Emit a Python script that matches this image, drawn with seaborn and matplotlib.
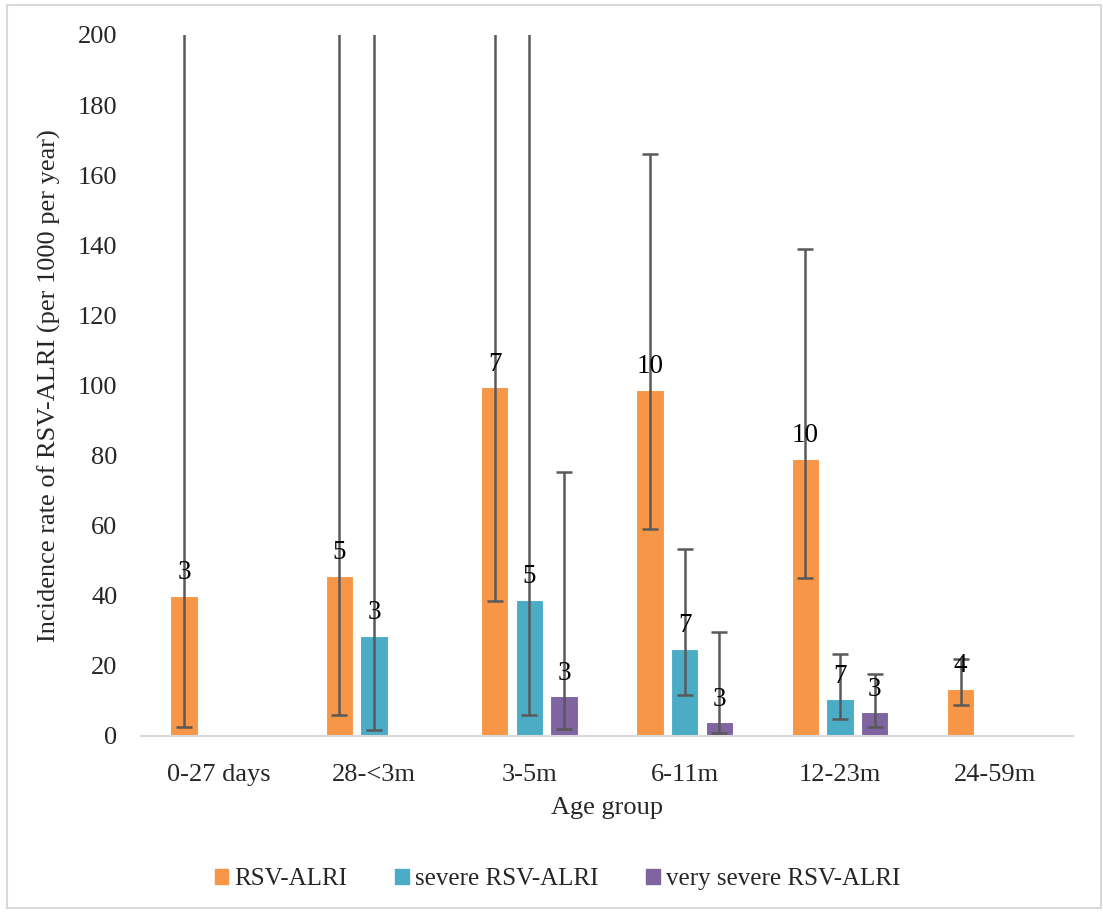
import numpy as np
import pandas as pd
import matplotlib
matplotlib.use("Agg")
import matplotlib.pyplot as plt
from matplotlib.patches import Rectangle
import seaborn as sns

# Age groups and outcome series
age_groups = ["0-27 days", "28-<3m", "3-5m", "6-11m", "12-23m", "24-59m"]
series = ["RSV-ALRI", "severe RSV-ALRI", "very severe RSV-ALRI"]

# Incidence rate per 1000 per year (NaN = not estimated)
rate_alri = [40.0, 45.7, 99.5, 98.8, 79.1, 13.5]
rate_severe = [np.nan, 28.6, 38.8, 24.8, 10.5, np.nan]
rate_very_severe = [np.nan, np.nan, 11.3, 3.9, 6.7, np.nan]

# 95% confidence limits
low_alri = [2.6, 6.1, 38.5, 59.0, 45.2, 8.8]
high_alri = [420.0, 330.0, 250.0, 166.0, 139.0, 22.0]
low_severe = [np.nan, 1.6, 5.9, 11.6, 4.9, np.nan]
high_severe = [np.nan, 480.0, 260.0, 53.4, 23.3, np.nan]
low_very_severe = [np.nan, np.nan, 1.9, 0.8, 2.7, np.nan]
high_very_severe = [np.nan, np.nan, 75.2, 29.7, 17.8, np.nan]

# Number of cases shown above each bar
cases_alri = [3, 5, 7, 10, 10, 4]
cases_severe = [np.nan, 3, 5, 7, 7, np.nan]
cases_very_severe = [np.nan, np.nan, 3, 3, 3, np.nan]

colors = ["#F79646", "#4BACC6", "#8064A2"]

rows = []
for s, r, lo, hi, n in zip(
    series,
    [rate_alri, rate_severe, rate_very_severe],
    [low_alri, low_severe, low_very_severe],
    [high_alri, high_severe, high_very_severe],
    [cases_alri, cases_severe, cases_very_severe],
):
    for i, g in enumerate(age_groups):
        rows.append({"age": g, "type": s, "rate": r[i], "low": lo[i],
                     "high": hi[i], "cases": n[i], "idx": i})
df = pd.DataFrame(rows)

sns.set_theme(style="white")
plt.rcParams["font.family"] = ["Liberation Serif", "DejaVu Serif"]

fig = plt.figure(figsize=(11.03, 9.13), dpi=100)
ax = fig.add_axes([0.1278, 0.1939, 0.8450, 0.7678])

sns.barplot(data=df.dropna(subset=["rate"]), x="age", y="rate", hue="type",
            order=age_groups, hue_order=series, palette=colors,
            width=0.67, gap=0.21, errorbar=None, ax=ax,
            saturation=1, linewidth=0.8, edgecolor="white")

# Asymmetric confidence intervals and case counts on each bar
for s, cont in zip(series, ax.containers):
    sub = df[df["type"] == s].set_index("idx")
    for bar in cont:
        xc = bar.get_x() + bar.get_width() / 2
        h = bar.get_height()
        if not np.isfinite(h) or h == 0:
            continue
        i = int(round(xc))
        row = sub.loc[i]
        ax.errorbar(xc, row["rate"],
                    yerr=[[row["rate"] - row["low"]], [row["high"] - row["rate"]]],
                    fmt="none", ecolor="#595959", elinewidth=1.8,
                    capsize=6, capthick=1.8, zorder=3)
        ax.annotate(f"{int(row['cases'])}", (xc, row["rate"]),
                    xytext=(0, 12), textcoords="offset points",
                    ha="center", va="baseline", fontsize=19.5,
                    color="black", zorder=4)

ax.set_ylim(0, 200)
ax.set_xlim(-0.5, len(age_groups) - 0.5)
ax.set_yticks(np.arange(0, 201, 20))
ax.tick_params(axis="y", length=0, pad=17, labelsize=19)
ax.tick_params(axis="x", length=0, pad=20, labelsize=19)
for sp in ["top", "right", "left"]:
    ax.spines[sp].set_visible(False)
ax.spines["bottom"].set_color("#D9D9D9")
ax.spines["bottom"].set_linewidth(1.5)
ax.grid(False)

ax.set_xlabel("Age group", fontsize=19, labelpad=8)
ax.set_ylabel("Incidence rate of RSV-ALRI (per 1000 per year)", fontsize=19,
              labelpad=12)

handles = [Rectangle((0, 0), 1, 1, color=c) for c in colors]
ax.legend(handles, series, loc="center", bbox_to_anchor=(0.447, -0.2045),
          ncol=3, frameon=False, fontsize=18, handlelength=0.55,
          handleheight=0.55, handletextpad=0.25, columnspacing=1.9)

# Light border around the whole chart area
fig.patches.append(Rectangle((0.006, 0.006), 0.992, 0.988,
                             transform=fig.transFigure, fill=False,
                             edgecolor="#D9D9D9", linewidth=1.5))

fig.savefig("out.png", dpi=100)
